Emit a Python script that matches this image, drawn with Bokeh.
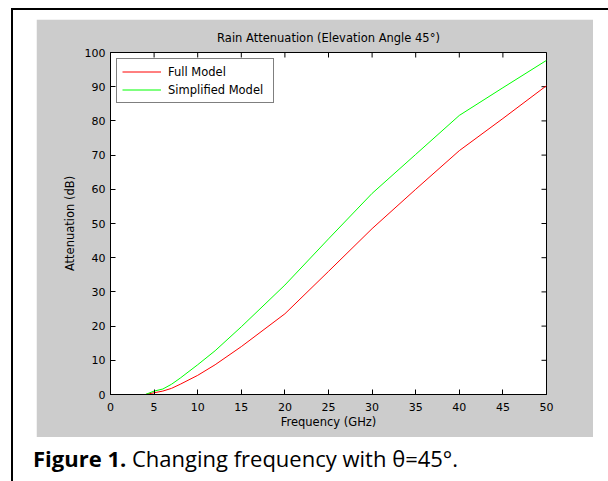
import math
from bokeh.plotting import figure
from bokeh.models import Legend, LegendItem, FixedTicker, Range1d, Div
from bokeh.layouts import row, column
from bokeh.embed import file_html
from bokeh.resources import INLINE

# ---- data ----
freq = [4, 5, 6, 7, 8, 10, 12, 15, 20, 25, 30, 35, 40, 45, 50]
att_full = [0, 0.5, 1.0, 1.8, 3.0, 5.6, 8.7, 14.0, 23.6, 36.0, 48.5, 60.0, 71.3, 80.7, 90.3]
att_simplified = [0, 1.0, 1.6, 3.0, 4.8, 8.7, 12.8, 19.8, 32.0, 45.5, 58.8, 70.2, 81.6, 89.7, 97.7]
x_ticks = [0, 5, 10, 15, 20, 25, 30, 35, 40, 45, 50]
y_ticks = [0, 10, 20, 30, 40, 50, 60, 70, 80, 90, 100]
x_lim = [0, 50]
y_lim = [0, 100]
series_names = ["Full Model", "Simplified Model"]
series_colors = ["#ff0000", "#00ff00"]
title_text = "Rain Attenuation (Elevation Angle 45°)"
x_label = "Frequency (GHz)"
y_label = "Attenuation (dB)"
caption_bold = "Figure 1."
caption_rest = "Changing frequency with θ=45°."

FONT = "DejaVu Sans"
GRAY = "#cccccc"

p = figure(width=557, height=418, output_backend="svg", toolbar_location=None,
           x_range=Range1d(*x_lim), y_range=Range1d(*y_lim),
           min_border_left=74, min_border_right=47,
           min_border_top=33, min_border_bottom=43,
           border_fill_color=GRAY, background_fill_color="white",
           outline_line_color="black", title=title_text)
p.grid.visible = False
p.margin = (9, 0, 0, 23)

p.title.align = "center"
p.title.text_font = FONT
p.title.text_font_size = "11.5px"
p.title.text_font_style = "normal"
p.title.text_color = "black"
p.title.standoff = 16

def style_axis(ax):
    ax.major_tick_in = 5
    ax.major_tick_out = 0
    ax.minor_tick_line_color = None
    ax.axis_line_color = "black"
    ax.major_tick_line_color = "black"
    ax.major_label_text_font = FONT
    ax.major_label_text_font_size = "11px"
    ax.major_label_text_color = "black"
    ax.axis_label_text_font = FONT
    ax.axis_label_text_font_size = "11.5px"
    ax.axis_label_text_font_style = "normal"
    ax.axis_label_text_color = "black"

xa = p.xaxis[0]
xa.ticker = FixedTicker(ticks=x_ticks)
xa.axis_label = x_label
style_axis(xa)
xa.major_label_standoff = 8
xa.axis_label_standoff = 1

ya = p.yaxis[0]
ya.ticker = FixedTicker(ticks=y_ticks)
ya.axis_label = y_label
style_axis(ya)
ya.major_label_standoff = 5
ya.axis_label_standoff = 5

# inward tick marks on the top and right edges of the box (clipped to the frame)
p.scatter(x=x_ticks, y=[y_lim[1]] * len(x_ticks), marker="dash", size=10,
          angle=math.pi / 2, line_color="black", line_width=1)
p.scatter(x=[x_lim[1]] * len(y_ticks), y=y_ticks, marker="dash", size=10,
          line_color="black", line_width=1)

r1 = p.line(freq, att_full, line_color=series_colors[0], line_width=1)
r2 = p.line(freq, att_simplified, line_color=series_colors[1], line_width=1)

legend = Legend(items=[LegendItem(label=series_names[0], renderers=[r1]),
                       LegendItem(label=series_names[1], renderers=[r2])],
                location="top_left", margin=6, padding=5, spacing=3,
                glyph_width=39, glyph_height=15, label_standoff=7, label_width=100,
                label_text_font=FONT, label_text_font_size="11.5px",
                label_text_color="black", border_line_color="black",
                border_line_width=1, background_fill_color="white",
                background_fill_alpha=1.0)
p.add_layout(legend, "center")

vline = Div(text="", width=2, height=473, margin=(8, 0, 0, 11),
            styles={"background-color": "black"})
hline = Div(text="", width=595, height=2, margin=(8, 0, 0, 0),
            styles={"background-color": "black"})
caption = Div(text="<b>%s</b> %s" % (caption_bold, caption_rest),
              width=560, height=30, margin=(6, 0, 0, 20),
              styles={"font-family": "Open Sans", "font-size": "22px",
                      "color": "black", "line-height": "normal",
                      "white-space": "nowrap"})

page = row(vline, column(hline, p, caption, spacing=0), spacing=0)

open("out.html", "w").write(file_html(page, INLINE))
